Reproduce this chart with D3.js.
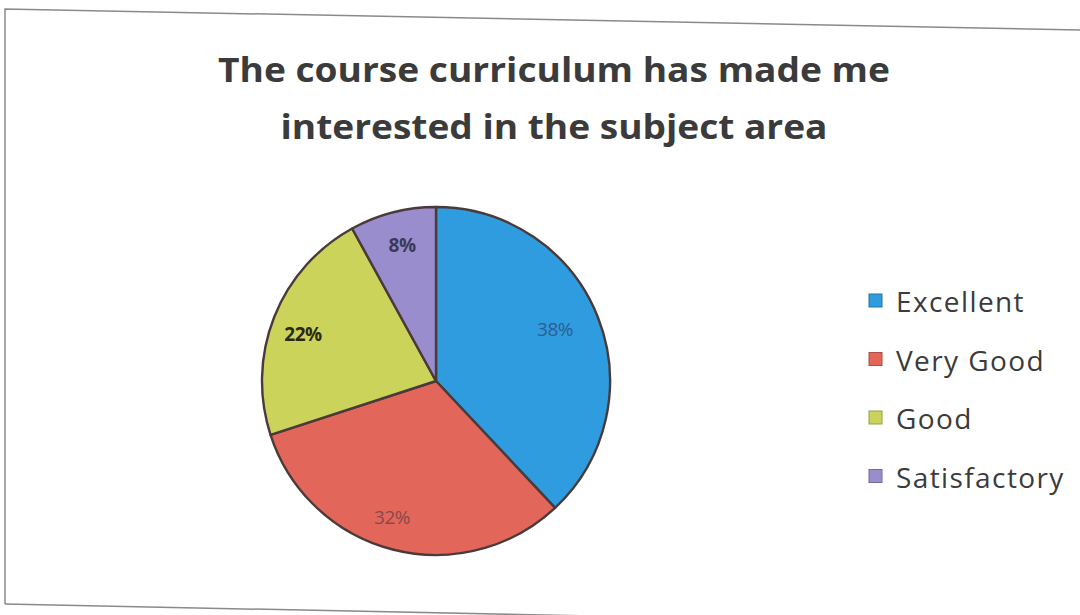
<!DOCTYPE html>
<html><head><meta charset="utf-8">
<script src="https://cdn.jsdelivr.net/npm/d3@7"></script>
<style>html,body{margin:0;padding:0;background:#fff;}svg{display:block;}</style>
</head><body>
<svg id="c" width="1080" height="615"></svg>
<script>
const categories = ["Excellent", "Very Good", "Good", "Satisfactory"];
const values = [38, 32, 22, 8];
const colors = ["#2f9ce0", "#e2665a", "#ccd35a", "#9a8dcd"];
const labelColors = ["#2b5f8e", "#8c4848", "#2a2a14", "#3a3a56"];
const titleLines = ["The course curriculum has made me", "interested in the subject area"];

const svg = d3.select("#c");

// scanned border (slightly tilted)
svg.append("path")
  .attr("d", "M5,604 L5,9 L1080,30")
  .attr("fill", "none").attr("stroke", "#8a8a8a").attr("stroke-width", 1.5);
svg.append("path")
  .attr("d", "M5,604 L1080,626")
  .attr("fill", "none").attr("stroke", "#8a8a8a").attr("stroke-width", 1.5);

// title
const titleWidths = [672, 547];
const title = svg.append("text")
  .attr("text-anchor", "middle")
  .attr("font-family", "'Open Sans', 'DejaVu Sans', sans-serif")
  .attr("font-weight", "bold")
  .attr("font-size", 34)
  .attr("fill", "#3b3b3b");
titleLines.forEach((t, i) => {
  title.append("tspan").attr("x", 554).attr("y", 82 + i * 57)
    .attr("textLength", titleWidths[i]).attr("lengthAdjust", "spacingAndGlyphs")
    .text(t);
});

// pie
const cx = 436, cy = 381, r = 174;
const pie = d3.pie().sort(null).value(d => d)(values);
const arc = d3.arc().innerRadius(0).outerRadius(r);
const g = svg.append("g").attr("transform", `translate(${cx},${cy})`);
g.selectAll("path.slice").data(pie).join("path")
  .attr("class", "slice")
  .attr("d", arc)
  .attr("fill", (d, i) => colors[i])
  .attr("stroke", "#4a3a3a")
  .attr("stroke-width", 2.4)
  .attr("stroke-linejoin", "round");

// labels
const labelPos = [[119, -52], [-44, 136], [-133, -47], [-34, -136]];
g.selectAll("text.lbl").data(pie).join("text")
  .attr("class", "lbl")
  .attr("x", (d, i) => labelPos[i][0])
  .attr("y", (d, i) => labelPos[i][1])
  .attr("text-anchor", "middle")
  .attr("dominant-baseline", "central")
  .attr("font-family", "'Open Sans', 'DejaVu Sans', sans-serif")
  .attr("font-size", 19)
  .attr("font-weight", (d, i) => (i === 2 || i === 3) ? "bold" : "normal")
  .attr("letter-spacing", -0.5)
  .attr("fill", (d, i) => labelColors[i])
  .text(d => d.data + "%");

// legend
const lg = svg.append("g");
const items = lg.selectAll("g").data(categories).join("g")
  .attr("transform", (d, i) => `translate(869,${301 + i * 58.5})`);
items.append("rect")
  .attr("x", 0).attr("y", -7).attr("width", 13).attr("height", 13)
  .attr("fill", (d, i) => colors[i])
  .attr("stroke", (d, i) => d3.color(colors[i]).darker(0.8))
  .attr("stroke-width", 1);
items.append("text")
  .attr("x", 27).attr("y", 0)
  .attr("dominant-baseline", "central")
  .attr("font-family", "'Open Sans', 'DejaVu Sans', sans-serif")
  .attr("font-size", 28)
  .attr("letter-spacing", 1.4)
  .attr("fill", "#3b3b3b")
  .text(d => d);
</script>
</body></html>
